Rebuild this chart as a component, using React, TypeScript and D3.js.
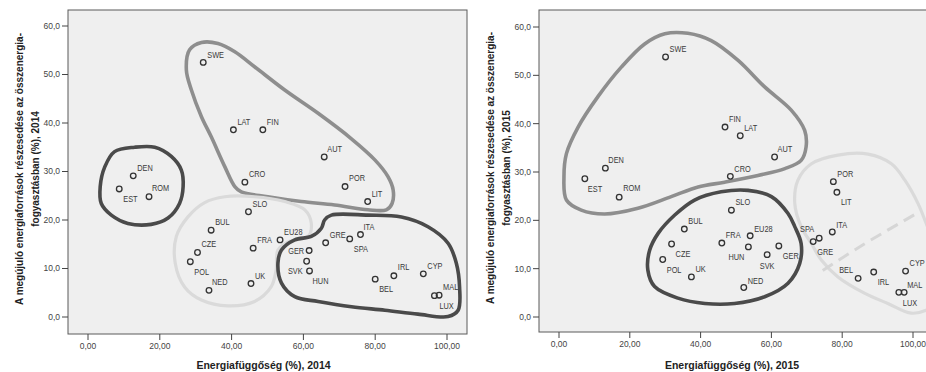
import React from "react";
import * as d3 from "d3";

// --- data ---
const countries2014 = ["SWE", "LAT", "FIN", "AUT", "CRO", "POR", "LIT", "DEN", "EST", "ROM", "SLO", "BUL", "CZE", "POL", "NED", "FRA", "EU28", "UK", "GER", "SVK", "HUN", "GRE", "SPA", "ITA", "BEL", "IRL", "CYP", "LUX", "MAL"];
const dependency2014 = [32.1, 40.5, 48.7, 65.8, 43.7, 71.6, 77.9, 12.6, 8.7, 17.0, 44.7, 34.3, 30.5, 28.5, 33.7, 46.0, 53.5, 45.4, 61.6, 60.9, 61.7, 66.2, 72.9, 75.9, 80.0, 85.2, 93.4, 96.5, 97.8];
const renewables2014 = [52.5, 38.6, 38.6, 33.0, 27.8, 26.9, 23.8, 29.1, 26.4, 24.8, 21.7, 17.9, 13.3, 11.4, 5.5, 14.2, 15.9, 6.9, 13.7, 11.5, 9.5, 15.3, 16.1, 17.0, 7.8, 8.5, 8.9, 4.4, 4.5];

const countries2015 = ["SWE", "FIN", "LAT", "AUT", "CRO", "DEN", "EST", "ROM", "SLO", "BUL", "CZE", "POL", "UK", "FRA", "EU28", "HUN", "SVK", "GER", "NED", "POR", "LIT", "ITA", "SPA", "GRE", "BEL", "IRL", "CYP", "LUX", "MAL"];
const dependency2015 = [30.1, 46.9, 51.2, 60.9, 48.4, 13.1, 7.3, 17.0, 48.7, 35.4, 31.8, 29.3, 37.4, 46.0, 54.0, 53.5, 58.8, 62.1, 52.2, 77.5, 78.5, 77.2, 73.5, 71.8, 84.5, 88.9, 97.9, 96.0, 97.5];
const renewables2015 = [53.8, 39.3, 37.5, 33.1, 29.1, 30.8, 28.6, 24.8, 22.1, 18.2, 15.1, 11.9, 8.3, 15.3, 16.8, 14.5, 12.9, 14.7, 6.1, 28.0, 25.8, 17.6, 16.3, 15.6, 8.0, 9.3, 9.5, 5.1, 5.1];

const xTicks = [0, 20, 40, 60, 80, 100];
const yTicks = [0, 10, 20, 30, 40, 50, 60];

// hand-drawn group outlines, in data units [dependency, renewables]
const groups2014 = [
  { tone: "mid", pts: [[31.6, 56.6], [36.2, 56.4], [40.9, 54.7], [46.4, 51.6], [54.8, 46.8], [64.1, 42.0], [73.3, 36.8], [79.9, 32.4], [83.6, 28.9], [85.0, 26.2], [84.7, 23.4], [83.1, 22.1], [78.0, 22.1], [68.7, 23.1], [59.4, 23.8], [50.1, 24.8], [42.7, 25.8], [40.9, 26.9], [38.1, 31.0], [34.3, 37.2], [31.6, 41.3], [28.8, 46.8], [27.4, 50.9], [28.3, 55.1]] },
  { tone: "dark", pts: [[13.0, 35.0], [18.6, 35.0], [23.2, 33.1], [26.0, 30.3], [26.5, 26.9], [25.5, 23.4], [22.3, 20.4], [17.6, 19.1], [11.1, 19.3], [6.5, 21.0], [3.7, 23.4], [3.4, 26.9], [4.7, 31.0], [7.4, 34.1]] },
  { tone: "light", pts: [[38.1, 24.8], [46.4, 24.8], [54.8, 23.8], [60.4, 22.1], [62.2, 19.3], [61.3, 16.6], [55.7, 15.5], [52.9, 13.8], [52.4, 9.7], [51.0, 6.2], [46.4, 3.2], [39.0, 2.3], [31.6, 3.5], [26.9, 6.2], [24.3, 11.1], [24.6, 16.6], [27.9, 20.7], [32.5, 23.6]] },
  { tone: "dark", pts: [[67.8, 21.0], [78.0, 21.0], [87.3, 20.6], [94.7, 18.6], [100.3, 15.2], [102.6, 11.1], [103.5, 6.2], [103.1, 1.4], [100.3, 0.1], [91.9, 0.6], [82.7, 1.4], [73.4, 2.1], [64.1, 3.2], [57.6, 4.2], [53.9, 7.0], [52.9, 11.1], [53.9, 13.8], [57.6, 15.9], [62.2, 16.6], [65.0, 18.3], [65.9, 20.0]] },
];
const groups2015 = [
  { tone: "mid", pts: [[29.9, 58.6], [36.4, 58.7], [43.0, 57.2], [50.6, 53.1], [58.1, 47.6], [65.6, 42.8], [69.4, 38.6], [69.8, 35.2], [68.4, 32.4], [63.8, 30.7], [56.2, 29.3], [46.8, 27.9], [39.3, 26.9], [31.7, 24.9], [22.3, 22.5], [12.9, 21.3], [6.3, 22.1], [2.1, 24.2], [1.4, 29.0], [2.1, 33.8], [5.4, 39.3], [11.0, 45.6], [17.6, 51.7], [24.2, 56.5]] },
  { tone: "dark", pts: [[32.7, 21.1], [38.3, 24.2], [45.8, 25.9], [53.4, 26.2], [60.0, 24.9], [64.7, 21.4], [66.6, 18.7], [68.4, 15.2], [68.0, 11.1], [64.7, 7.0], [58.1, 4.2], [49.6, 2.8], [41.2, 2.8], [33.6, 3.9], [27.0, 6.3], [25.1, 9.7], [25.6, 13.8], [28.0, 17.3]] },
  { tone: "light", pts: [[67.5, 28.3], [71.3, 31.7], [78.8, 33.5], [87.3, 33.7], [93.9, 31.7], [97.7, 28.3], [101.4, 23.5], [103.7, 19.4], [107.6, 11.8], [107.6, 3.5], [103.7, 1.4], [99.5, 0.8], [92.9, 2.8], [86.4, 4.9], [78.8, 8.3], [74.1, 11.8], [71.3, 15.2], [68.4, 18.7], [66.6, 23.5]] },
];
const dashed2015 = [[74.5, 9.6], [86.0, 15.0], [100.5, 21.2]];

// label placement: [dx, dy, anchor]
const labels2014: Record<string, [number, number, string]> = {
  SWE: [4, -8, "start"], LAT: [4, -8, "start"], FIN: [4, -8, "start"], AUT: [3, -8, "start"], CRO: [4, -8, "start"],
  POR: [4, -9, "start"], LIT: [4, -8, "start"], DEN: [4, -8, "start"], EST: [4, 10, "start"], ROM: [3, -9, "start"],
  SLO: [4, -8, "start"], BUL: [4, -8, "start"], CZE: [4, -9, "start"], POL: [4, 10, "start"], NED: [3, -8, "start"],
  FRA: [4, -8, "start"], EU28: [4, -8, "start"], UK: [4, -8, "start"], GER: [-5, 0, "end"], SVK: [-4, 10, "end"],
  HUN: [3, 10, "start"], GRE: [4, -8, "start"], SPA: [4, 10, "start"], ITA: [3, -8, "start"], BEL: [4, 10, "start"],
  IRL: [4, -9, "start"], CYP: [4, -8, "start"], LUX: [5, 10, "start"], MAL: [4, -8, "start"],
};
const labels2015: Record<string, [number, number, string]> = {
  SWE: [4, -8, "start"], FIN: [4, -8, "start"], LAT: [4, -8, "start"], AUT: [3, -8, "start"], CRO: [4, -8, "start"],
  DEN: [3, -8, "start"], EST: [3, 10, "start"], ROM: [4, -9, "start"], SLO: [4, -8, "start"], BUL: [4, -8, "start"],
  CZE: [4, 10, "start"], POL: [4, 10, "start"], UK: [4, -8, "start"], FRA: [4, -8, "start"], EU28: [4, -7, "start"],
  HUN: [-4, 10, "end"], SVK: [0, 11, "middle"], GER: [4, 10, "start"], NED: [4, -7, "start"], POR: [4, -8, "start"],
  LIT: [4, 10, "start"], ITA: [4, -7, "start"], SPA: [-5, -9, "end"], GRE: [4, 10, "start"], BEL: [-5, -8, "end"],
  IRL: [4, 10, "start"], CYP: [4, -8, "start"], LUX: [4, 10, "start"], MAL: [3, -8, "start"],
};

const FONT = "'Liberation Sans', Arial, sans-serif";
const toneColor: Record<string, [string, number]> = {
  mid: ["#8e8e8e", 3.6],
  dark: ["#4a4a4a", 3.6],
  light: ["#dadada", 3.2],
};

type PanelProps = {
  id: string;
  box: { x0: number; x1: number; y0: number; y1: number };
  xRange: [number, number];
  yRange: [number, number];
  countries: string[];
  xs: number[];
  ys: number[];
  labels: Record<string, [number, number, string]>;
  groups: { tone: string; pts: number[][] }[];
  dashed?: number[][];
  year: string;
};

function Panel({ id, box, xRange, yRange, countries, xs, ys, labels, groups, dashed, year }: PanelProps) {
  const x = d3.scaleLinear().domain([0, 100]).range(xRange);
  const y = d3.scaleLinear().domain([0, 60]).range(yRange);
  const blob = d3.line<number[]>().x(d => x(d[0])).y(d => y(d[1])).curve(d3.curveCatmullRomClosed.alpha(0.5));
  const open = d3.line<number[]>().x(d => x(d[0])).y(d => y(d[1])).curve(d3.curveCatmullRom.alpha(0.5));
  const titleCx = (x(0) + x(100)) / 2;
  const yMid = (box.y0 + box.y1) / 2;
  return (
    <g>
      <defs>
        <clipPath id={id}>
          <rect x={box.x0} y={box.y0} width={box.x1 - box.x0} height={box.y1 - box.y0} />
        </clipPath>
      </defs>
      <rect x={box.x0} y={box.y0} width={box.x1 - box.x0} height={box.y1 - box.y0} fill="#efefef" stroke="#5a5a5a" strokeWidth={1} />
      <g clipPath={`url(#${id})`}>
        {groups.map((g, i) => (
          <path key={i} d={blob(g.pts) || ""} fill="none" stroke={toneColor[g.tone][0]} strokeWidth={toneColor[g.tone][1]} strokeLinejoin="round" />
        ))}
        {dashed && (
          <path d={open(dashed) || ""} fill="none" stroke="#d6d6d6" strokeWidth={3} strokeDasharray="12 7" />
        )}
        {countries.map((c, i) => (
          <circle key={c} cx={x(xs[i])} cy={y(ys[i])} r={2.8} fill="none" stroke="#333" strokeWidth={1.3} />
        ))}
        {countries.map((c, i) => {
          const [dx, dy, anchor] = labels[c];
          // SPSS labels are a bit condensed
          return (
            <text key={c} transform={`translate(${x(xs[i]) + dx},${y(ys[i]) + dy}) scale(0.82,1)`} dy="0.35em" textAnchor={anchor as any} fontSize={9} fontFamily={FONT} fill="#3a3a3a">
              {c}
            </text>
          );
        })}
      </g>
      {/* y axis */}
      {yTicks.map(t => (
        <g key={t}>
          <line x1={box.x0 - 6} x2={box.x0} y1={y(t)} y2={y(t)} stroke="#444" strokeWidth={1} />
          <text x={box.x0 - 8} y={y(t)} dy="0.35em" textAnchor="end" fontSize={8.5} fontFamily={FONT} fill="#444">
            {d3.format(".1f")(t).replace(".", ",")}
          </text>
        </g>
      ))}
      {/* x axis */}
      {xTicks.map(t => (
        <g key={t}>
          <line x1={x(t)} x2={x(t)} y1={box.y1} y2={box.y1 + 6} stroke="#444" strokeWidth={1} />
          <text x={x(t)} y={box.y1 + 15} textAnchor="middle" fontSize={8.5} fontFamily={FONT} fill="#444">
            {d3.format(".2f")(t).replace(".", ",")}
          </text>
        </g>
      ))}
      <text x={titleCx - 4} y={369} textAnchor="middle" fontSize={10.5} fontWeight="bold" fontFamily={FONT} fill="#222">
        {`Energiafüggőség (%), ${year}`}
      </text>
      <text transform={`translate(${box.x0 - 45},${yMid - 3}) rotate(-90)`} textAnchor="middle" fontSize={10} fontWeight="bold" fontFamily={FONT} fill="#222">
        A megújuló energiaforrások részesedése az összenergia-
      </text>
      <text transform={`translate(${box.x0 - 29},${yMid - 3}) rotate(-90)`} textAnchor="middle" fontSize={10} fontWeight="bold" fontFamily={FONT} fill="#222">
        {`fogyasztásban (%), ${year}`}
      </text>
    </g>
  );
}

export default function App() {
  return (
    <svg width={926} height={372} style={{ position: "absolute", left: 0, top: 0, background: "#fff" }}>
      <Panel
        id="clip2014"
        box={{ x0: 68, x1: 467, y0: 10, y1: 334 }}
        xRange={[88, 447]}
        yRange={[317, 26]}
        countries={countries2014}
        xs={dependency2014}
        ys={renewables2014}
        labels={labels2014}
        groups={groups2014}
        year="2014"
      />
      <Panel
        id="clip2015"
        box={{ x0: 539, x1: 940, y0: 10, y1: 332 }}
        xRange={[559, 913]}
        yRange={[317, 27]}
        countries={countries2015}
        xs={dependency2015}
        ys={renewables2015}
        labels={labels2015}
        groups={groups2015}
        dashed={dashed2015}
        year="2015"
      />
    </svg>
  );
}
